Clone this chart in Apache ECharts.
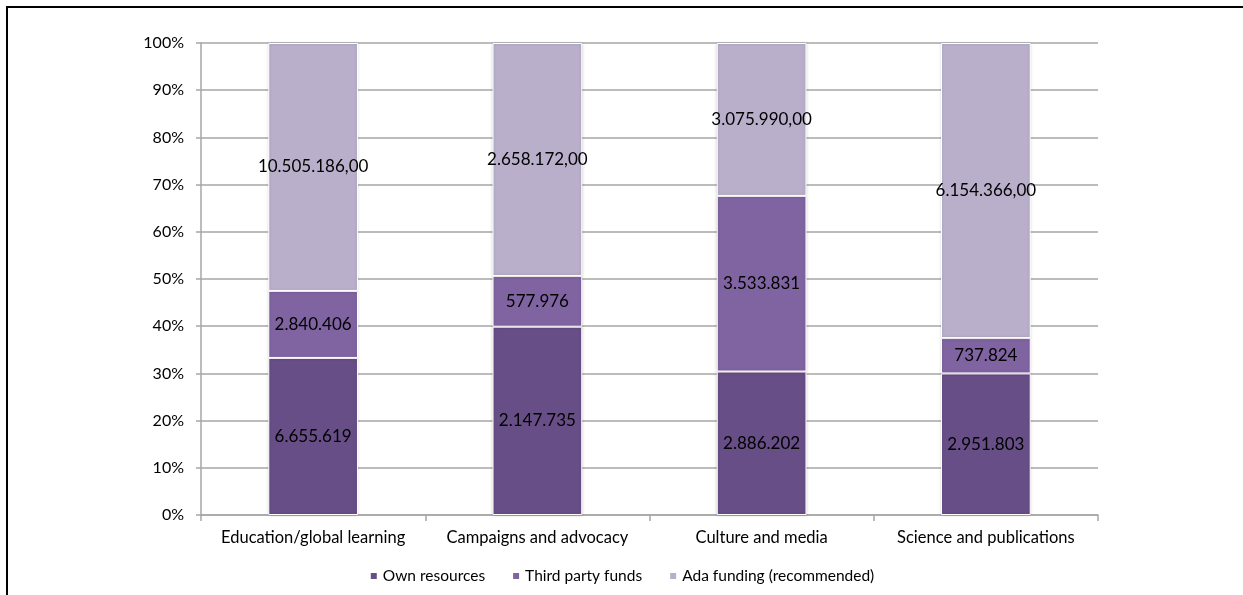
<!DOCTYPE html>
<html>
<head>
<meta charset="utf-8">
<script src="https://cdn.jsdelivr.net/npm/echarts@6/dist/echarts.min.js"></script>
<style>
html,body{margin:0;padding:0;background:#fff;}
#chart{width:1243px;height:595px;}
</style>
</head>
<body>
<div id="chart"></div>
<script>
const categories = ['Education/global learning', 'Campaigns and advocacy', 'Culture and media', 'Science and publications'];
const ownResources = [6655619, 2147735, 2886202, 2951803];
const thirdPartyFunds = [2840406, 577976, 3533831, 737824];
const adaFunding = [10505186.00, 2658172.00, 3075990.00, 6154366.00];
const seriesNames = ['Own resources', 'Third party funds', 'Ada funding (recommended)'];
const yTicks = [0, 10, 20, 30, 40, 50, 60, 70, 80, 90, 100];

const totals = categories.map((c, i) => ownResources[i] + thirdPartyFunds[i] + adaFunding[i]);
function fmt(v, dec) {
  const parts = v.toFixed(dec).split('.');
  const intPart = parts[0].replace(/\B(?=(\d{3})+(?!\d))/g, '.');
  return dec ? intPart + ',' + parts[1] : intPart;
}
function mk(arr, dec) {
  return arr.map((v, i) => ({ value: v / totals[i] * 100, raw: v, dec: dec }));
}
const FONT = 'Lato';
const colors = ['#684E86', '#8064A2', '#B9AFCA'];
const chart = echarts.init(document.getElementById('chart'), null, { renderer: 'canvas' });
const seriesData = [mk(ownResources, 0), mk(thirdPartyFunds, 0), mk(adaFunding, 2)];
chart.setOption({
  animation: false,
  backgroundColor: '#fff',
  graphic: [
    { type: 'rect', shape: { x: 7, y: 7, width: 1250, height: 600 }, style: { fill: 'none', stroke: '#000', lineWidth: 2 }, z: 100 },
    { type: 'text', left: 0, top: -19, style: { text: 'Figure 8:', font: 'italic bold 19px "Liberation Sans"', fill: '#000' } },
    { type: 'text', left: 258, top: -19, style: { text: 'Allocation of funding sources of projects', font: 'italic bold 19px "Liberation Sans"', fill: '#000' } }
  ],
  grid: { left: 201, right: 145, top: 43, bottom: 80, containLabel: false },
  legend: {
    bottom: 6, left: 'center',
    itemWidth: 8, itemHeight: 8, itemGap: 26,
    icon: 'rect',
    textStyle: { fontFamily: FONT, fontSize: 15.5, color: '#000' },
    data: seriesNames
  },
  xAxis: {
    type: 'category', data: categories,
    axisLine: { lineStyle: { color: '#A6A6A6', width: 1.5 } },
    axisTick: { show: true, length: 6, lineStyle: { color: '#A6A6A6', width: 1.5 } },
    axisLabel: { interval: 0, fontFamily: FONT, fontSize: 16.5, color: '#000', margin: 14 }
  },
  yAxis: {
    type: 'value', min: 0, max: 100, interval: 10,
    axisLine: { show: true, lineStyle: { color: '#A6A6A6', width: 1.5 } },
    axisTick: { show: true, length: 5, lineStyle: { color: '#A6A6A6', width: 1.5 } },
    splitLine: { lineStyle: { color: '#A6A6A6', width: 1.5 } },
    axisLabel: { fontFamily: FONT, fontSize: 16, color: '#000', margin: 17, formatter: v => yTicks.includes(v) ? v + '%' : '' }
  },
  series: seriesNames.map((name, k) => ({
    name, type: 'bar', stack: 'total', barWidth: '40%',
    data: seriesData[k],
    itemStyle: { color: colors[k], borderColor: '#fff', borderWidth: 1, shadowColor: 'rgba(0,0,0,0.18)', shadowBlur: 3 },
    label: {
      show: true, position: 'inside', color: '#000', fontFamily: FONT, fontSize: 17,
      formatter: p => fmt(p.data.raw, p.data.dec)
    }
  }))
});
</script>
</body>
</html>
